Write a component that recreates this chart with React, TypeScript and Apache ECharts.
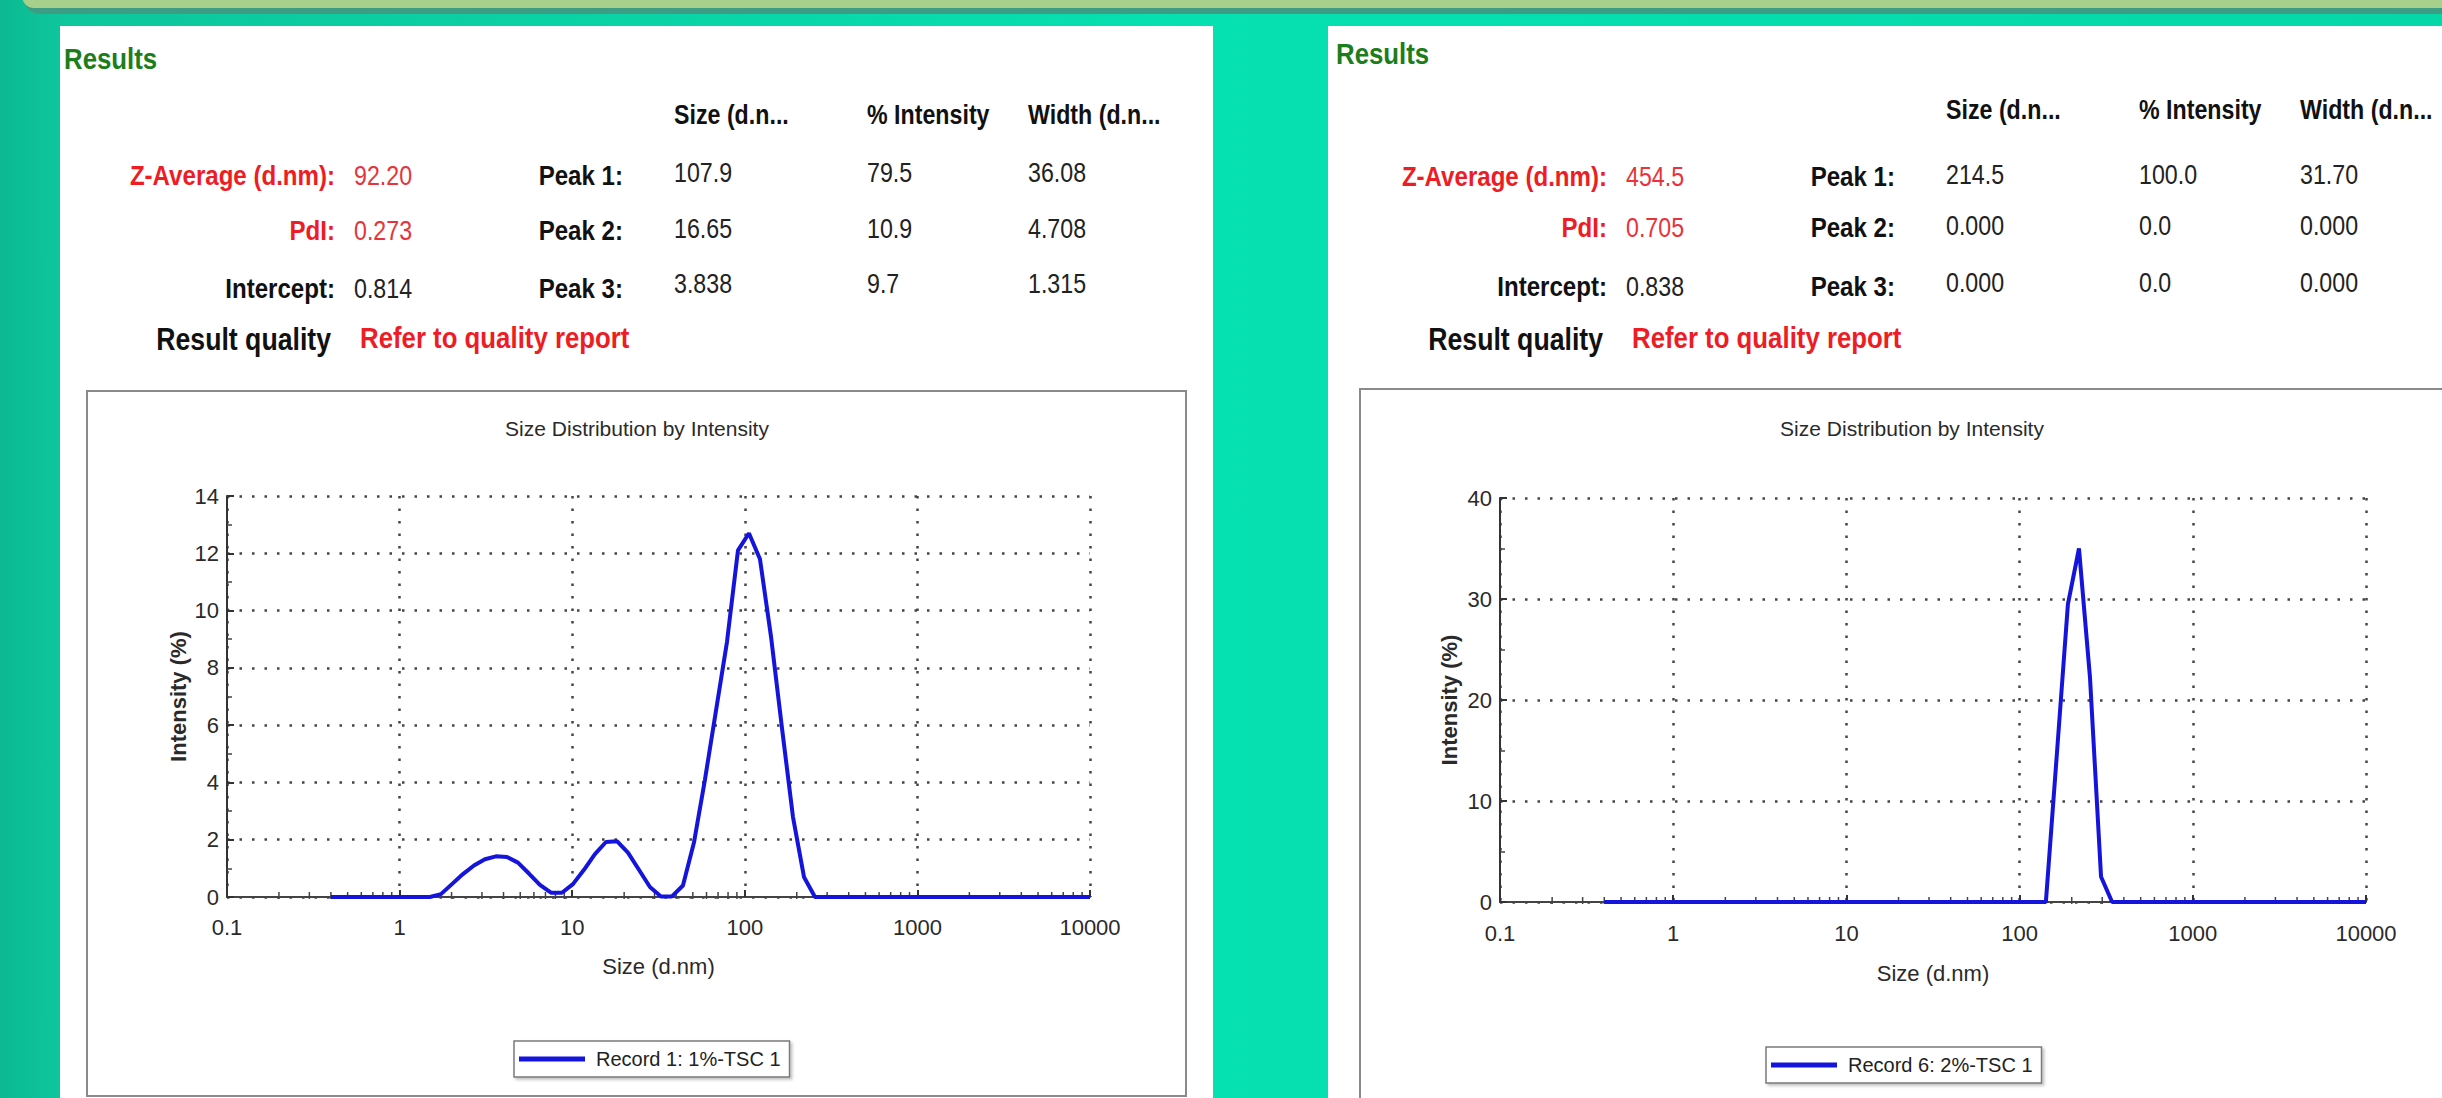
import React, { useEffect, useRef } from "react";
import * as echarts from "echarts";

// ---------------- DATA ----------------
// Size classes (d.nm) of the distribution
const sizes = [
  0.4, 0.4632, 0.5365, 0.6213, 0.7195, 0.8332, 0.9649, 1.117, 1.294, 1.499,
  1.736, 2.01, 2.328, 2.696, 3.122, 3.615, 4.187, 4.849, 5.615, 6.503,
  7.531, 8.721, 10.1, 11.7, 13.54, 15.69, 18.17, 21.04, 24.36, 28.21,
  32.67, 37.84, 43.82, 50.75, 58.77, 68.06, 78.82, 91.28, 105.7, 122.4,
  141.8, 164.2, 190.1, 220.2, 255.0, 295.3, 342.0, 396.1, 458.7, 531.2,
  615.1, 712.4, 825.0, 955.4, 1106, 1281, 1484, 1718, 1990, 2305,
  2669, 3091, 3580, 4145, 4801, 5560, 6439, 7456, 8635, 10000,
];

// Record 1: 1%-TSC 1 — intensity (%)
const record1 = [
  0, 0, 0, 0, 0, 0, 0, 0, 0, 0,
  0.1, 0.45, 0.8, 1.1, 1.32, 1.42, 1.4, 1.2, 0.82, 0.42,
  0.15, 0.15, 0.45, 0.95, 1.5, 1.92, 1.95, 1.55, 0.95, 0.35,
  0.02, 0.02, 0.4, 1.9, 4.1, 6.5, 8.9, 12.1, 12.7, 11.8,
  9.1, 5.9, 2.8, 0.7, 0, 0, 0, 0, 0, 0,
  0, 0, 0, 0, 0, 0, 0, 0, 0, 0,
  0, 0, 0, 0, 0, 0, 0, 0, 0, 0,
];

// Record 6: 2%-TSC 1 — intensity (%)
const record6 = [
  0, 0, 0, 0, 0, 0, 0, 0, 0, 0,
  0, 0, 0, 0, 0, 0, 0, 0, 0, 0,
  0, 0, 0, 0, 0, 0, 0, 0, 0, 0,
  0, 0, 0, 0, 0, 0, 0, 0, 0, 0,
  0, 14.7, 29.5, 35, 22.2, 2.5, 0, 0, 0, 0,
  0, 0, 0, 0, 0, 0, 0, 0, 0, 0,
  0, 0, 0, 0, 0, 0, 0, 0, 0, 0,
];

const seriesNames = ["Record 1: 1%-TSC 1", "Record 6: 2%-TSC 1"];
const chartTitle = "Size Distribution by Intensity";
const xAxisName = "Size (d.nm)";
const yAxisName = "Intensity (%)";
const xTickLabels = ["0.1", "1", "10", "100", "1000", "10000"];
const yMax = [14, 40];
const yStep = [2, 10];
const minorTicks = [
  0.2, 0.3, 0.4, 0.5, 0.6, 0.7, 0.8, 0.9,
  2, 3, 4, 5, 6, 7, 8, 9,
  20, 30, 40, 50, 60, 70, 80, 90,
  200, 300, 400, 500, 600, 700, 800, 900,
  2000, 3000, 4000, 5000, 6000, 7000, 8000, 9000,
];

// Results tables
const headers = ["Size (d.n...", "% Intensity", "Width (d.n..."];
const summaryLabels = ["Z-Average (d.nm):", "PdI:", "Intercept:"];
const summary1 = ["92.20", "0.273", "0.814"];
const summary6 = ["454.5", "0.705", "0.838"];
const peakLabels = ["Peak 1:", "Peak 2:", "Peak 3:"];
const peaks1 = [
  ["107.9", "79.5", "36.08"],
  ["16.65", "10.9", "4.708"],
  ["3.838", "9.7", "1.315"],
];
const peaks6 = [
  ["214.5", "100.0", "31.70"],
  ["0.000", "0.0", "0.000"],
  ["0.000", "0.0", "0.000"],
];
const resultsTitle = "Results";
const qualityLabel = "Result quality";
const qualityValue = "Refer to quality report";

// ---------------- STYLE ----------------
const FONT = "'Liberation Sans', Arial, Helvetica, sans-serif";
const SX = 0.86;
const RED = "#ee1c25";
const RED_VAL = "#e8333a";
const BLACK = "#111111";
const LINE_BLUE = "#1414dc";

function txt(
  text: string,
  x: number,
  baseline: number,
  size: number,
  opts: { bold?: boolean; color?: string; align?: string; sx?: number } = {}
) {
  return {
    type: "text",
    x,
    y: baseline - 0.35 * size,
    scaleX: opts.sx ?? SX,
    z: 50,
    silent: true,
    style: {
      text,
      fill: opts.color ?? BLACK,
      fontFamily: FONT,
      fontSize: size,
      fontWeight: opts.bold ? "bold" : "normal",
      align: opts.align ?? "left",
      verticalAlign: "middle",
    },
  };
}

function panelTexts(
  dx: number,
  resultsY: number,
  headerY: number,
  labelYs: number[],
  valueYs: number[],
  summary: string[],
  peaks: string[][]
) {
  const els: any[] = [];
  els.push(txt(resultsTitle, 64 + dx, resultsY, 30, { bold: true, color: "#1c7d1c" }));
  const cols = [674, 867, 1028];
  headers.forEach((h, i) => els.push(txt(h, cols[i] + dx, headerY, 27, { bold: true })));
  summaryLabels.forEach((l, i) => {
    const c = i < 2 ? RED : BLACK;
    els.push(txt(l, 335 + dx, labelYs[i], 28, { bold: true, color: c, align: "right" }));
    els.push(txt(summary[i], 354 + dx, labelYs[i], 27, { color: i < 2 ? RED_VAL : "#222" }));
  });
  peakLabels.forEach((l, i) => {
    els.push(txt(l, 623 + dx, labelYs[i], 28, { bold: true, align: "right" }));
    peaks[i].forEach((v, j) => els.push(txt(v, cols[j] + dx, valueYs[i], 27, { color: "#222" })));
  });
  els.push(txt(qualityLabel, 331 + dx, 350, 31, { bold: true, align: "right" }));
  els.push(txt(qualityValue, 360 + dx, 348, 30, { bold: true, color: RED }));
  return els;
}

function buildOption() {
  const grids = [
    { left: 227, top: 496, width: 863, height: 401 },
    { left: 1500, top: 498, width: 866, height: 404 },
  ];
  const dotted = { color: "#444", width: 2.5, type: [2.5, 10] };

  const xAxes = grids.map((_, gi) => ({
    type: "log",
    logBase: 10,
    min: 0.1,
    max: 10000,
    gridIndex: gi,
    axisLine: { show: true, onZero: false, lineStyle: { color: "#444", width: 2 } },
    axisTick: { show: true, inside: true, length: 7, lineStyle: { color: "#333", width: 2 } },
    axisLabel: {
      fontSize: 22,
      color: "#2a2a2a",
      fontFamily: FONT,
      margin: gi === 0 ? 19 : 20,
      formatter: (v: number) => xTickLabels[Math.round(Math.log10(v)) + 1] ?? String(v),
    },
    splitLine: { show: true, lineStyle: dotted },
    name: xAxisName,
    nameLocation: "middle",
    nameGap: gi === 0 ? 58 : 60,
    nameTextStyle: { fontSize: 22, color: "#2a2a2a", fontFamily: FONT },
  }));

  const yAxes = grids.map((_, gi) => ({
    type: "value",
    min: 0,
    max: yMax[gi],
    interval: yStep[gi],
    gridIndex: gi,
    axisLine: { show: true, onZero: false, lineStyle: { color: "#333", width: 2 } },
    axisTick: { show: true, inside: true, length: 7, lineStyle: { color: "#333", width: 2 } },
    minorTick: { show: true, splitNumber: 2, length: 5, lineStyle: { color: "#444", width: 1.5 } },
    axisLabel: { fontSize: 22, color: "#2a2a2a", fontFamily: FONT, margin: 8 },
    splitLine: { show: true, lineStyle: dotted },
    name: yAxisName,
    nameLocation: "middle",
    nameGap: gi === 0 ? 38 : 40,
    nameTextStyle: { fontSize: 22, fontWeight: "bold", color: "#2a2a2a", fontFamily: FONT },
  }));

  const records = [record1, record6];
  const lineSeries = records.map((rec, gi) => ({
    type: "line",
    name: seriesNames[gi],
    xAxisIndex: gi,
    yAxisIndex: gi,
    data: sizes.map((s, i) => [s, rec[i]]),
    showSymbol: false,
    symbol: "none",
    smooth: false,
    lineStyle: { color: LINE_BLUE, width: 4 },
    itemStyle: { color: LINE_BLUE },
    z: 5,
  }));

  const tickSeries = grids.map((_, gi) => ({
    type: "custom",
    name: "minor-" + gi,
    xAxisIndex: gi,
    yAxisIndex: gi,
    silent: true,
    z: 3,
    data: minorTicks.map((v) => [v, 0]),
    renderItem: (params: any, api: any) => {
      const p = api.coord([api.value(0), 0]);
      return {
        type: "line",
        shape: { x1: p[0], y1: p[1] - 5, x2: p[0], y2: p[1] + 2 },
        style: { stroke: "#444", lineWidth: 1.5 },
      };
    },
  }));

  const titles = [637, 1912].map((cx) => ({
    text: chartTitle,
    left: cx,
    top: 418,
    textAlign: "center",
    padding: 0,
    textStyle: { fontSize: 21, fontWeight: "normal", color: "#2a2a2a", fontFamily: FONT },
  }));

  const legends = [
    { left: 514, top: 1041 },
    { left: 1766, top: 1047 },
  ].map((pos, gi) => ({
    data: [seriesNames[gi]],
    left: pos.left,
    top: pos.top,
    orient: "horizontal",
    icon: "rect",
    itemWidth: 66,
    itemHeight: 5,
    padding: [8, 9, 8, 5],
    backgroundColor: "#ffffff",
    borderColor: "#7a7a7a",
    borderWidth: 1.5,
    borderRadius: 0,
    shadowBlur: 3,
    shadowColor: "rgba(0,0,0,0.25)",
    shadowOffsetX: 2,
    shadowOffsetY: 2,
    selectedMode: false,
    textStyle: { fontSize: 20, color: "#222", fontFamily: FONT, padding: [0, 0, 0, 6] },
  }));

  const bgGradient = {
    type: "linear",
    x: 0,
    y: 0,
    x2: 1,
    y2: 0,
    colorStops: [
      { offset: 0, color: "#0cb991" },
      { offset: 0.025, color: "#0ec69c" },
      { offset: 0.5, color: "#06e1b1" },
      { offset: 1, color: "#05d7a8" },
    ],
  };

  const background: any[] = [
    { type: "rect", z: -20, silent: true, shape: { x: 0, y: 0, width: 2442, height: 1098 }, style: { fill: bgGradient } },
    { type: "rect", z: -19, silent: true, shape: { x: 25, y: -30, width: 2440, height: 44, r: 14 }, style: { fill: "#3c9c84" } },
    { type: "rect", z: -18, silent: true, shape: { x: 22, y: -30, width: 2440, height: 38, r: 12 }, style: { fill: "#a8d08d" } },
    { type: "rect", z: -17, silent: true, shape: { x: 60, y: 26, width: 1153, height: 1080 }, style: { fill: "#ffffff" } },
    { type: "rect", z: -17, silent: true, shape: { x: 1328, y: 26, width: 1120, height: 1080 }, style: { fill: "#ffffff" } },
    {
      type: "rect", z: -16, silent: true,
      shape: { x: 87, y: 391, width: 1099, height: 705 },
      style: { fill: "#ffffff", stroke: "#8a8a8a", lineWidth: 2 },
    },
    {
      type: "rect", z: -16, silent: true,
      shape: { x: 1360, y: 389, width: 1100, height: 720 },
      style: { fill: "#ffffff", stroke: "#8a8a8a", lineWidth: 2 },
    },
  ];

  const texts = [
    ...panelTexts(0, 69, 124, [185, 240, 298], [182, 238, 293], summary1, peaks1),
    ...panelTexts(1272, 64, 119, [186, 237, 296], [184, 235, 292], summary6, peaks6),
  ];

  return {
    animation: false,
    textStyle: { fontFamily: FONT },
    title: titles,
    legend: legends,
    grid: grids,
    xAxis: xAxes,
    yAxis: yAxes,
    series: [...lineSeries, ...tickSeries],
    graphic: { elements: [...background, ...texts] },
  };
}

export default function App() {
  const ref = useRef<HTMLDivElement | null>(null);
  useEffect(() => {
    if (!ref.current) return;
    const chart = echarts.init(ref.current, null, { renderer: "svg" });
    chart.setOption(buildOption() as any);
    return () => chart.dispose();
  }, []);
  return (
    <div
      ref={ref}
      style={{ position: "absolute", left: 0, top: 0, width: 2442, height: 1098, overflow: "hidden" }}
    />
  );
}
